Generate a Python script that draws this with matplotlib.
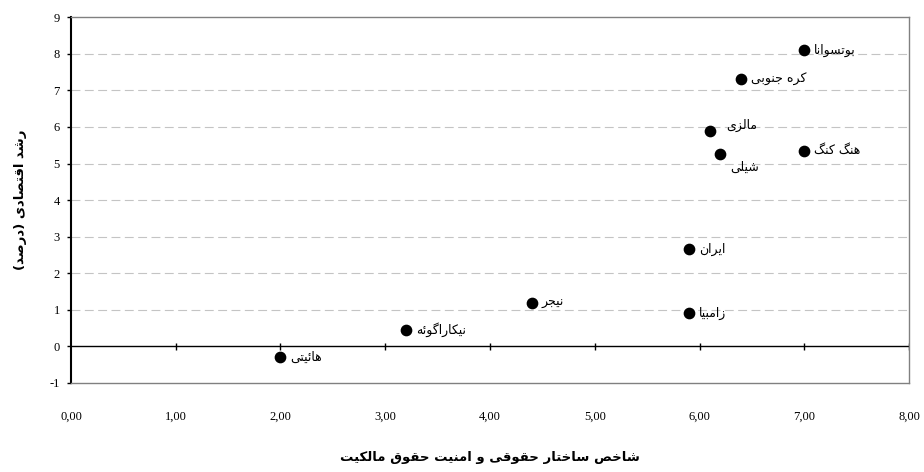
import matplotlib
matplotlib.use("Agg")
import matplotlib.pyplot as plt

# data
countries = ["بوتسوانا", "کره جنوبی", "مالزی", "هنگ کنگ", "شیلی",
             "ایران", "زامبیا", "نیجر", "نیکاراگوئه", "هائیتی"]
legal_index = [7.0, 6.4, 6.1, 7.0, 6.2, 5.9, 5.9, 4.4, 3.2, 2.0]
growth = [8.1, 7.3, 5.9, 5.35, 5.25, 2.65, 0.9, 1.2, 0.45, -0.3]
x_ticks = [0, 1, 2, 3, 4, 5, 6, 7, 8]
y_ticks = [-1, 0, 1, 2, 3, 4, 5, 6, 7, 8, 9]
x_title = "شاخص ساختار حقوقی و امنیت حقوق مالکیت"
y_title = "رشد اقتصادی (درصد)"

# label offsets in points (most labels sit to the right of the dot)
offsets = {"مالزی": (12, 4), "شیلی": (7, -5)}

# matplotlib does no arabic shaping, so do it by hand
FORMS = {
    "ا": ("\uFE8D", "\uFE8E", None, None),
    "ب": ("\uFE8F", "\uFE90", "\uFE91", "\uFE92"),
    "ت": ("\uFE95", "\uFE96", "\uFE97", "\uFE98"),
    "ج": ("\uFE9D", "\uFE9E", "\uFE9F", "\uFEA0"),
    "ح": ("\uFEA1", "\uFEA2", "\uFEA3", "\uFEA4"),
    "خ": ("\uFEA5", "\uFEA6", "\uFEA7", "\uFEA8"),
    "د": ("\uFEA9", "\uFEAA", None, None),
    "ر": ("\uFEAD", "\uFEAE", None, None),
    "ز": ("\uFEAF", "\uFEB0", None, None),
    "س": ("\uFEB1", "\uFEB2", "\uFEB3", "\uFEB4"),
    "ش": ("\uFEB5", "\uFEB6", "\uFEB7", "\uFEB8"),
    "ص": ("\uFEB9", "\uFEBA", "\uFEBB", "\uFEBC"),
    "ق": ("\uFED5", "\uFED6", "\uFED7", "\uFED8"),
    "ل": ("\uFEDD", "\uFEDE", "\uFEDF", "\uFEE0"),
    "م": ("\uFEE1", "\uFEE2", "\uFEE3", "\uFEE4"),
    "ن": ("\uFEE5", "\uFEE6", "\uFEE7", "\uFEE8"),
    "ه": ("\uFEE9", "\uFEEA", "\uFEEB", "\uFEEC"),
    "و": ("\uFEED", "\uFEEE", None, None),
    "ئ": ("\uFE89", "\uFE8A", "\uFE8B", "\uFE8C"),
    "ک": ("\uFB8E", "\uFB8F", "\uFB90", "\uFB91"),
    "گ": ("\uFB92", "\uFB93", "\uFB94", "\uFB95"),
    "ی": ("\uFBFC", "\uFBFD", "\uFBFE", "\uFBFF"),
}
MIRROR = {"(": ")", ")": "("}


def shape(s):
    out = []
    for i, c in enumerate(s):
        if c not in FORMS:
            out.append(MIRROR.get(c, c))
            continue
        prev = s[i - 1] if i > 0 else ""
        nxt = s[i + 1] if i + 1 < len(s) else ""
        join_prev = prev in FORMS and FORMS[prev][2] is not None
        join_next = nxt in FORMS and FORMS[c][2] is not None
        iso, fin, ini, med = FORMS[c]
        if join_prev and join_next:
            out.append(med)
        elif join_prev:
            out.append(fin)
        elif join_next:
            out.append(ini)
        else:
            out.append(iso)
    return "".join(out[::-1])


plt.rcParams["font.family"] = ["Liberation Serif", "DejaVu Sans"]

fig = plt.figure(figsize=(9.24, 4.72), dpi=100)
ax = fig.add_axes([0.0768, 0.1886, 0.907, 0.775])

ax.scatter(legal_index, growth, s=55, color="black", zorder=3)
for name, x, y in zip(countries, legal_index, growth):
    dx, dy = offsets.get(name, (7, 0))
    va = "top" if dy < -3 else "center"
    ax.annotate(shape(name), (x, y), xytext=(dx, dy), textcoords="offset points",
                ha="left", va=va, fontsize=9, family="DejaVu Sans")

ax.set_xlim(x_ticks[0], x_ticks[-1])
ax.set_ylim(y_ticks[0], y_ticks[-1])

# dashed grid, solid line at zero with its own tick marks
for y in y_ticks[2:-1]:
    ax.axhline(y, color="#c4c4c4", lw=0.8, dashes=(8, 4), zorder=1)
ax.axhline(0, color="black", lw=1.0, zorder=2)
ax.vlines(x_ticks[1:], -0.1, 0.1, color="black", lw=1.0, zorder=2)

ax.set_xticks(x_ticks)
ax.set_xticklabels([("%.2f" % v).replace(".", ",") for v in x_ticks])
ax.set_yticks(y_ticks)
ax.set_yticklabels([str(v) for v in y_ticks])
ax.tick_params(axis="x", length=0, pad=20, labelsize=9)
ax.tick_params(axis="y", direction="out", length=3, width=1, pad=5, labelsize=9)

for side in ("top", "right", "bottom"):
    ax.spines[side].set_color("#808080")
    ax.spines[side].set_linewidth(1.0)
ax.spines["left"].set_color("black")
ax.spines["left"].set_linewidth(1.5)

ax.set_xlabel(shape(x_title), fontsize=9.5, fontweight="bold",
              family="DejaVu Sans", labelpad=20)
ax.set_ylabel(shape(y_title), fontsize=9.5, fontweight="bold",
              family="DejaVu Sans", labelpad=16)

fig.savefig("out.png", dpi=100)
